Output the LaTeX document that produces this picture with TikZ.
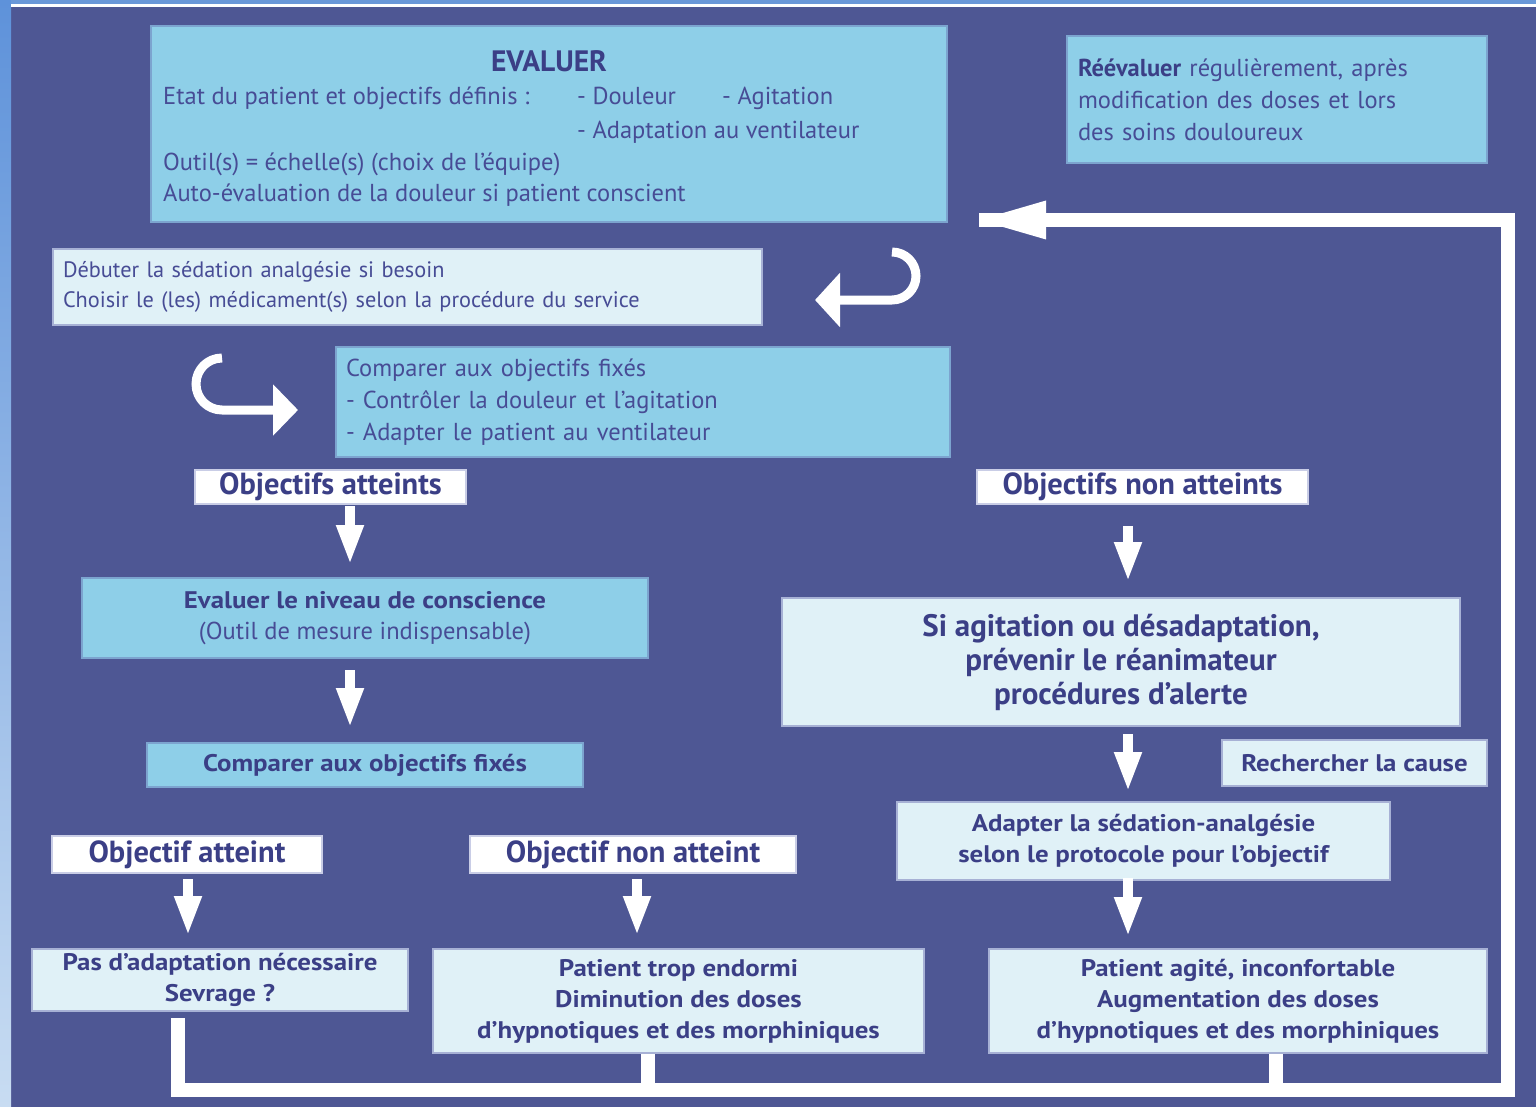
\documentclass[tikz,border=0pt]{standalone}
\usepackage{fontspec}
\setmainfont{PT Sans}
\newfontfamily\wideFont{PT Sans}[FakeStretch=1.12]
\usetikzlibrary{arrows.meta,calc}
\definecolor{bgdark}{HTML}{4E5794}
\definecolor{boxblue}{HTML}{8ECFE8}
\definecolor{boxlight}{HTML}{E0F1F7}
\definecolor{edgeblue}{HTML}{7CA4CF}
\definecolor{edgelight}{HTML}{A7B1D5}
\definecolor{edgewhite}{HTML}{C9CDE6}
\definecolor{txt}{HTML}{474C95}
\definecolor{txtdark}{HTML}{3B3F86}
\definecolor{topblue}{HTML}{6A98D8}
\definecolor{stripA}{HTML}{5E92DA}
\definecolor{stripB}{HTML}{C8DCF2}
\newcommand\myBody{\fontsize{24.5}{32}\selectfont}
\newcommand\mySmall{\fontsize{22.3}{30}\selectfont}
\newcommand\myMed{\fontsize{24}{31}\selectfont\wideFont\bfseries}
\newcommand\myBig{\fontsize{31}{34}\selectfont\bfseries}
\newcommand\myLab{\fontsize{30.5}{34}\selectfont\bfseries}
\begin{document}
\begin{tikzpicture}[x=1pt,y=1pt,
  bluebox/.style={rectangle, fill=boxblue, draw=edgeblue, line width=2pt, inner sep=0pt, text=txt},
  lightbox/.style={rectangle, fill=boxlight, draw=edgelight, line width=2pt, inner sep=0pt, text=txtdark},
  labbox/.style={rectangle, fill=white, draw=edgewhite, line width=2pt, inner sep=0pt, text=txtdark, font=\myLab},
  txtnode/.style={anchor=base west, inner sep=0pt, text=txt, font=\myBody},
  fatarrow/.style={draw=white, line width=10pt, -{Triangle[length=40pt,width=25pt]}},
  loopline/.style={draw=white, line width=14pt, line join=miter},
  curvarrow/.style={draw=white, line width=9pt}
]
\useasboundingbox (0,0) rectangle (1536,-1107);
% background
\fill[bgdark] (0,0) rectangle (1536,-1107);
\shade[top color=stripA, bottom color=stripB] (0,0) rectangle (11,-1107);
\fill[topblue] (11,0) rectangle (1536,-4);
\fill[white] (11,-4) rectangle (1536,-7);

% EVALUER box
\node[bluebox, minimum width=796pt, minimum height=196pt] (eval) at (549,-124) {};
\node[anchor=base, inner sep=0pt, text=txtdark, font=\fontsize{29.5}{34}\selectfont\bfseries] (evt) at (549,-72) {EVALUER};
\node[txtnode] (ev1) at (163,-105) {Etat du patient et objectifs définis :};
\node[txtnode] (ev2) at (577,-105) {- Douleur};
\node[txtnode] (ev3) at (722,-105) {- Agitation};
\node[txtnode] (ev4) at (577,-139) {- Adaptation au ventilateur};
\node[txtnode] (ev5) at (163,-171) {Outil(s) = échelle(s) (choix de l’équipe)};
\node[txtnode] (ev6) at (163,-202) {Auto-évaluation de la douleur si patient conscient};

% Reevaluer box
\node[bluebox, minimum width=420pt, minimum height=127pt, text width=398pt, inner xsep=11pt, align=left, font=\myBody] (reev) at (1277,-100)
  {\textbf{\color{txtdark}Réévaluer} régulièrement, après\\ modification des doses et lors\\ des soins douloureux};

% Debuter box
\node[lightbox, text=txt, minimum width=709pt, minimum height=76pt, text width=689pt, inner xsep=10pt, align=left, font=\mySmall] (debut) at (407.5,-287)
  {Débuter la sédation analgésie si besoin\\ Choisir le (les) médicament(s) selon la procédure du service};

% Comparer box
\node[bluebox, minimum width=614pt, minimum height=110pt, text width=594pt, inner xsep=10pt, align=left, font=\myBody] (comp1) at (643,-402)
  {Comparer aux objectifs fixés\\ - Contrôler la douleur et l’agitation\\ - Adapter le patient au ventilateur};

% labels
\node[labbox, minimum width=271pt, minimum height=34pt] (lab1) at (330.5,-487) {Objectifs atteints};
\node[labbox, minimum width=331pt, minimum height=34pt] (lab2) at (1142.5,-487) {Objectifs non atteints};

% left branch
\node[bluebox, text=txtdark, minimum width=566pt, minimum height=80pt, align=center, font=\fontsize{24}{31}\selectfont] (evniv) at (365,-618)
  {{\myMed Evaluer le niveau de conscience}\\ {\myBody\color{txt}(Outil de mesure indispensable)}};
\node[bluebox, text=txtdark, minimum width=436pt, minimum height=44pt, font=\myMed] (comp2) at (365,-765) {Comparer aux objectifs fixés};
\node[labbox, minimum width=270pt, minimum height=37pt] (lab3) at (187,-854.5) {Objectif atteint};
\node[labbox, minimum width=326pt, minimum height=37pt] (lab4) at (633,-854.5) {Objectif non atteint};
\node[lightbox, minimum width=376pt, minimum height=62pt, align=center, font=\myMed] (pas) at (220,-980)
  {Pas d’adaptation nécessaire\\ Sevrage ?};
\node[lightbox, minimum width=491pt, minimum height=104pt, align=center, font=\myMed] (trop) at (678.5,-1001)
  {Patient trop endormi\\ Diminution des doses\\ d’hypnotiques et des morphiniques};

% right branch
\node[lightbox, minimum width=678pt, minimum height=128pt, align=center, font=\myBig] (siag) at (1121,-662)
  {Si agitation ou désadaptation,\\ prévenir le réanimateur\\ procédures d’alerte};
\node[lightbox, minimum width=265pt, minimum height=46pt, font=\myMed] (rech) at (1354.5,-763) {Rechercher la cause};
\node[lightbox, minimum width=493pt, minimum height=78pt, align=center, font=\myMed] (adapt) at (1143.5,-841)
  {Adapter la sédation-analgésie\\ selon le protocole pour l’objectif};
\node[lightbox, minimum width=498pt, minimum height=104pt, align=center, font=\myMed] (agite) at (1238,-1001)
  {Patient agité, inconfortable\\ Augmentation des doses\\ d’hypnotiques et des morphiniques};

% straight arrows
\draw[fatarrow] ([xshift=19.5pt,yshift=-1pt]lab1.south) -- ([xshift=-15pt,yshift=12pt]evniv.north);
\draw[fatarrow] ([xshift=-15pt,yshift=-11pt]evniv.south) -- ([xshift=-15pt,yshift=14pt]comp2.north);
\draw[fatarrow] ([xshift=-14.5pt,yshift=-21pt]lab2.south) -- ([xshift=7pt,yshift=15pt]siag.north);
\draw[fatarrow] ([xshift=7pt,yshift=-7pt]siag.south) -- ([xshift=-15.5pt,yshift=9pt]adapt.north);
\draw[fatarrow] ([xshift=-15.5pt,yshift=3pt]adapt.south) -- ([xshift=-110pt,yshift=11pt]agite.north);
\draw[fatarrow] ([xshift=1pt,yshift=-5pt]lab3.south) -- ([xshift=-32pt,yshift=12pt]pas.north);
\draw[fatarrow] ([xshift=4pt,yshift=-5pt]lab4.south) -- ([xshift=-41.5pt,yshift=12pt]trop.north);

% feedback loop
\coordinate (loopBR) at (1508,-1090);
\draw[loopline] ([xshift=-42pt,yshift=-6pt]pas.south) |- (loopBR) |- ([xshift=31pt,yshift=3pt]eval.south east);
\fill[white] ([xshift=31pt,yshift=3pt]eval.south east) -- ++(67,19.5) -- ++(0,-39) -- cycle;
\draw[loopline] ([xshift=-30.5pt]trop.south) -- ([xshift=-30.5pt]trop.south |- loopBR);
\draw[loopline] ([xshift=38pt]agite.south) -- ([xshift=38pt]agite.south |- loopBR);

% curved arrows
\coordinate (cA) at (892,-252);
\coordinate (cAend) at (815,-300);
\draw[curvarrow, -{Triangle[length=25pt,width=53pt]}] (cA) arc[start angle=90,end angle=-90,radius=24pt] -- (cAend);
\coordinate (cB) at (222,-358);
\coordinate (cBend) at (298,-410);
\draw[curvarrow, -{Triangle[length=25pt,width=50pt]}] (cB) arc[start angle=90,end angle=270,radius=26pt] -- (cBend);
\end{tikzpicture}
\end{document}
